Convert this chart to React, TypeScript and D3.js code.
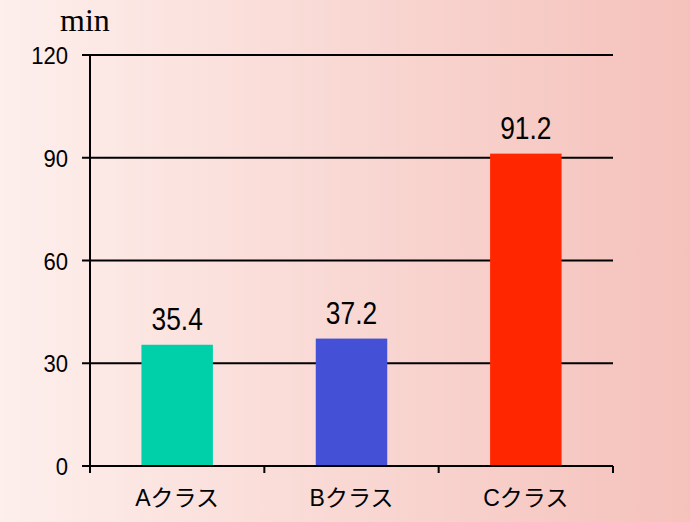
import React, { useEffect, useRef } from "react";
import * as d3 from "d3";

// data
const categories = ["Aクラス", "Bクラス", "Cクラス"];
const values = [35.4, 37.2, 91.2];
const barColors = ["#00d0a9", "#4450d6", "#ff2600"];
const yTicks = [0, 30, 60, 90, 120];
const unitLabel = "min";

const App = () => {
  const ref = useRef<SVGSVGElement>(null);

  useEffect(() => {
    makeGraph();
  }, []);

  const makeGraph = () => {
    const width = 690;
    const height = 522;
    const margin = { top: 55, left: 90, bottom: 56, right: 77 };

    const svg = d3.select(ref.current);
    svg.selectAll("*").remove();

    // 배경 그라데이션
    const grad = svg
      .append("defs")
      .append("linearGradient")
      .attr("id", "bg")
      .attr("x1", "0%")
      .attr("x2", "100%")
      .attr("y1", "0%")
      .attr("y2", "0%");
    grad.append("stop").attr("offset", "0%").attr("stop-color", "#fdefec");
    grad.append("stop").attr("offset", "100%").attr("stop-color", "#f5c1bb");

    svg
      .append("rect")
      .attr("width", width)
      .attr("height", height)
      .attr("fill", "url(#bg)");

    const x = d3
      .scaleBand()
      .domain(categories)
      .range([margin.left, width - margin.right])
      .paddingInner(0.59)
      .paddingOuter(0.295);

    const xOuter = d3
      .scaleBand()
      .domain(categories)
      .range([margin.left, width - margin.right]);

    const y = d3
      .scaleLinear()
      .domain([0, 120])
      .range([height - margin.bottom, margin.top]);

    const sans = "'Liberation Sans', Arial, 'Noto Sans CJK JP', sans-serif";

    // grid lines
    svg
      .append("g")
      .selectAll("line")
      .data(yTicks)
      .enter()
      .append("line")
      .attr("x1", margin.left - 8)
      .attr("x2", width - margin.right)
      .attr("y1", (d) => y(d))
      .attr("y2", (d) => y(d))
      .attr("stroke", "#000")
      .attr("stroke-width", 2);

    // y tick labels
    svg
      .append("g")
      .selectAll("text")
      .data(yTicks)
      .enter()
      .append("text")
      .attr("transform", (d) => `translate(68, ${y(d) + 9}) scale(0.92, 1)`)
      .attr("text-anchor", "end")
      .attr("font-family", sans)
      .attr("font-size", "24px")
      .attr("fill", "#000")
      .text((d) => d);

    // bars
    svg
      .append("g")
      .selectAll("rect")
      .data(values)
      .enter()
      .append("rect")
      // @ts-ignore
      .attr("x", (d, i) => x(categories[i]))
      .attr("y", (d) => y(d))
      .attr("width", x.bandwidth())
      .attr("height", (d) => y(0) - y(d))
      .attr("fill", (d, i) => barColors[i]);

    // y axis line
    svg
      .append("line")
      .attr("x1", margin.left)
      .attr("x2", margin.left)
      .attr("y1", y(120))
      .attr("y2", y(0) + 7)
      .attr("stroke", "#000")
      .attr("stroke-width", 2);

    // x axis ticks
    const bounds = categories.map((c) => xOuter(c) as number);
    bounds.push(width - margin.right);
    svg
      .append("g")
      .selectAll("line")
      .data(bounds)
      .enter()
      .append("line")
      .attr("x1", (d) => d)
      .attr("x2", (d) => d)
      .attr("y1", y(0))
      .attr("y2", y(0) + 7)
      .attr("stroke", "#000")
      .attr("stroke-width", 2);

    // x axis line on top of bars
    svg
      .append("line")
      .attr("x1", margin.left - 8)
      .attr("x2", width - margin.right)
      .attr("y1", y(0))
      .attr("y2", y(0))
      .attr("stroke", "#000")
      .attr("stroke-width", 2);

    // category labels
    svg
      .append("g")
      .selectAll("text")
      .data(categories)
      .enter()
      .append("text")
      // @ts-ignore
      .attr("x", (d) => xOuter(d) + xOuter.bandwidth() / 2)
      .attr("y", y(0) + 40)
      .attr("text-anchor", "middle")
      .attr("font-family", sans)
      .attr("font-size", "23px")
      .attr("fill", "#000")
      .text((d) => d);

    // value labels
    svg
      .append("g")
      .selectAll("text")
      .data(values)
      .enter()
      .append("text")
      .attr(
        "transform",
        (d, i) =>
          // @ts-ignore
          `translate(${x(categories[i]) + x.bandwidth() / 2}, ${y(d) - 15}) scale(0.85, 1)`
      )
      .attr("text-anchor", "middle")
      .attr("font-family", sans)
      .attr("font-size", "31px")
      .attr("fill", "#000")
      .text((d) => d.toFixed(1));

    // unit
    svg
      .append("text")
      .attr("x", 60)
      .attr("y", 31)
      .attr("font-family", "'Liberation Serif', 'Times New Roman', serif")
      .attr("font-size", "32px")
      .attr("fill", "#000")
      .text(unitLabel);
  };

  return (
    <svg
      ref={ref}
      width={690}
      height={522}
      style={{ position: "absolute", left: 0, top: 0 }}
    />
  );
};
export default App;
